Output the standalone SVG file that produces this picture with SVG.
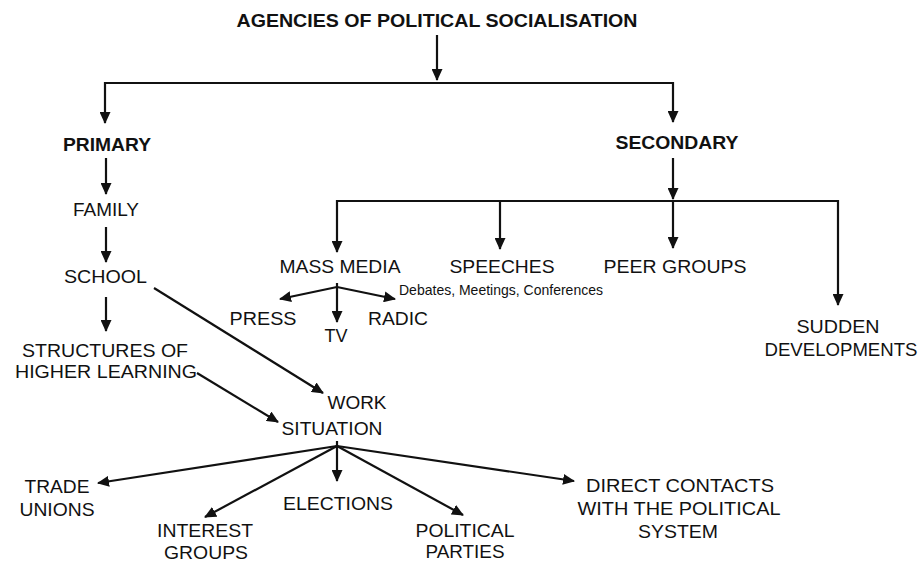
<svg xmlns="http://www.w3.org/2000/svg" width="921" height="562" viewBox="0 0 921 562">
<style>
text{font-family:"Liberation Sans",Arial,sans-serif;fill:#111;text-anchor:middle;font-size:17.5px}
.b{font-weight:bold}
.s{font-size:15px}
.c{fill:none;stroke:#111;stroke-width:2.2;marker-end:url(#ah)}
</style>
<defs>
<marker id="ah" viewBox="0 0 12 11" refX="11" refY="5.5" markerWidth="12" markerHeight="11" markerUnits="userSpaceOnUse" orient="auto">
<path d="M0,0 L12,5.5 L0,11 z" fill="#111"/>
</marker>
</defs>
<rect width="921" height="562" fill="#fff"/>
<g id="connectors">
<path class="c" d="M437,35 V80"/>
<path class="c" d="M437,83 H105 V123"/>
<path class="c" d="M437,83 H673 V122"/>
<path class="c" d="M106,158 V194"/>
<path class="c" d="M106,227 V262"/>
<path class="c" d="M106,297 V331"/>
<path class="c" d="M154,288 L323,393"/>
<path class="c" d="M197,373 L278,422"/>
<path class="c" d="M673,158 V199"/>
<path class="c" d="M673,201 H337 V252"/>
<path class="c" d="M673,201 H838 V305"/>
<path class="c" d="M500,201 V249"/>
<path class="c" d="M673,201 V248"/>
<path class="c" d="M337,287 L280,299"/>
<path class="c" d="M337,283 V322"/>
<path class="c" d="M337,287 L395,299"/>
<path class="c" d="M337,446 L98,483"/>
<path class="c" d="M337,446 L205,517"/>
<path class="c" d="M337,441 V481"/>
<path class="c" d="M337,446 L463,515"/>
<path class="c" d="M337,446 L574,481"/>
</g>
<g id="title"><text class="b" x="437" y="27" font-size="16.5" textLength="401" lengthAdjust="spacingAndGlyphs">AGENCIES OF POLITICAL SOCIALISATION</text></g>
<g id="primary"><text class="b" x="107" y="151" textLength="88" lengthAdjust="spacingAndGlyphs">PRIMARY</text></g>
<g id="secondary"><text class="b" x="677" y="149" textLength="123" lengthAdjust="spacingAndGlyphs">SECONDARY</text></g>
<g id="family"><text x="106" y="216" textLength="66" lengthAdjust="spacingAndGlyphs">FAMILY</text></g>
<g id="school"><text x="105.5" y="283" textLength="83" lengthAdjust="spacingAndGlyphs">SCHOOL</text></g>
<g id="structures"><text x="105" y="357" textLength="166" lengthAdjust="spacingAndGlyphs">STRUCTURES OF</text><text x="106" y="378" textLength="182" lengthAdjust="spacingAndGlyphs">HIGHER LEARNING</text></g>
<g id="work"><text x="357" y="409" textLength="59" lengthAdjust="spacingAndGlyphs">WORK</text><text x="332" y="435" textLength="101" lengthAdjust="spacingAndGlyphs">SITUATION</text></g>
<g id="massmedia"><text x="340" y="273" textLength="121" lengthAdjust="spacingAndGlyphs">MASS MEDIA</text></g>
<g id="speeches"><text x="502" y="273" textLength="105" lengthAdjust="spacingAndGlyphs">SPEECHES</text><text class="s" x="501" y="295" textLength="204" lengthAdjust="spacingAndGlyphs">Debates, Meetings, Conferences</text></g>
<g id="peer"><text x="675" y="273" textLength="143" lengthAdjust="spacingAndGlyphs">PEER GROUPS</text></g>
<g id="sudden"><text x="838" y="333" textLength="83" lengthAdjust="spacingAndGlyphs">SUDDEN</text><text x="841" y="356" textLength="153" lengthAdjust="spacingAndGlyphs">DEVELOPMENTS</text></g>
<g id="press"><text x="263" y="325" textLength="67" lengthAdjust="spacingAndGlyphs">PRESS</text></g>
<g id="tv"><text x="336" y="342" textLength="23" lengthAdjust="spacingAndGlyphs">TV</text></g>
<g id="radio"><text x="398" y="325" textLength="60" lengthAdjust="spacingAndGlyphs">RADIC</text></g>
<g id="trade"><text x="57" y="493" textLength="65" lengthAdjust="spacingAndGlyphs">TRADE</text><text x="57" y="516" textLength="75" lengthAdjust="spacingAndGlyphs">UNIONS</text></g>
<g id="interest"><text x="205" y="537" textLength="96" lengthAdjust="spacingAndGlyphs">INTEREST</text><text x="206" y="559" textLength="84" lengthAdjust="spacingAndGlyphs">GROUPS</text></g>
<g id="elections"><text x="338" y="510" textLength="110" lengthAdjust="spacingAndGlyphs">ELECTIONS</text></g>
<g id="political"><text x="465" y="537" textLength="99" lengthAdjust="spacingAndGlyphs">POLITICAL</text><text x="465" y="558" textLength="79" lengthAdjust="spacingAndGlyphs">PARTIES</text></g>
<g id="direct"><text x="680" y="492" textLength="188" lengthAdjust="spacingAndGlyphs">DIRECT CONTACTS</text><text x="679" y="515" textLength="203" lengthAdjust="spacingAndGlyphs">WITH THE POLITICAL</text><text x="678" y="538" textLength="80" lengthAdjust="spacingAndGlyphs">SYSTEM</text></g>
</svg>
